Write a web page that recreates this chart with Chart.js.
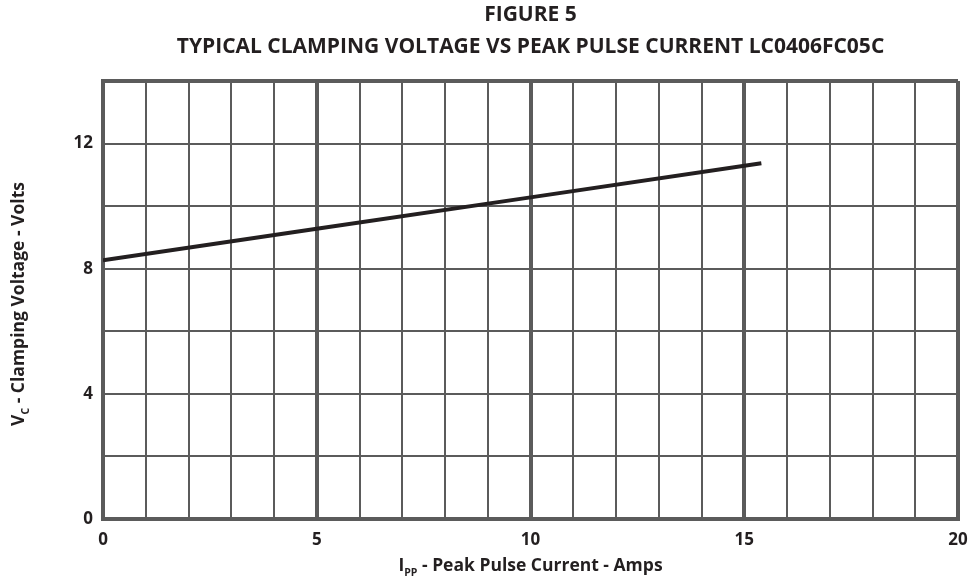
<!DOCTYPE html>
<html>
<head>
<meta charset="utf-8">
<script src="https://cdn.jsdelivr.net/npm/chart.js@4"></script>
<style>
    body { margin: 0; background: #fff; }
    canvas { display: block; }
</style>
</head>
<body>
<canvas id="clampChart" width="974" height="586"></canvas>
<script>
// Data
const currentAmps = [0, 5, 10, 15.4];
const clampVolts = [8.27, 9.28, 10.28, 11.37];
const xTickLabels = [0, 5, 10, 15, 20];
const yTickLabels = [0, 4, 8, 12];
const titleLines = ['FIGURE 5', 'TYPICAL CLAMPING VOLTAGE VS PEAK PULSE CURRENT LC0406FC05C'];

const ink = '#231f20';
const gridColor = '#5b5b5b';
const fontFamily = '"Open Sans", Lato, sans-serif';

// draws text with a subscript part, centred on (cx, cy)
function drawSubText(ctx, parts, cx, cy, size) {
    const widths = parts.map(p => {
        ctx.font = 'bold ' + (p.sub ? size * 0.6 : size) + 'px ' + fontFamily;
        return ctx.measureText(p.t).width;
    });
    let x = cx - widths.reduce((a, b) => a + b, 0) / 2;
    ctx.textBaseline = 'middle';
    ctx.textAlign = 'left';
    parts.forEach((p, i) => {
        ctx.font = 'bold ' + (p.sub ? size * 0.6 : size) + 'px ' + fontFamily;
        ctx.fillText(p.t, x, p.sub ? cy + size * 0.4 : cy);
        x += widths[i];
    });
}

const textPlugin = {
    id: 'figureText',
    afterDraw(chart) {
        const ctx = chart.ctx;
        const area = chart.chartArea;
        const cx = (area.left + area.right) / 2;
        const cy = (area.top + area.bottom) / 2;
        ctx.save();
        ctx.fillStyle = ink;
        ctx.textAlign = 'center';
        ctx.textBaseline = 'middle';
        ctx.font = 'bold 21px ' + fontFamily;
        ctx.fillText(titleLines[0], cx, 15);
        ctx.fillText(titleLines[1], cx, 47);

        drawSubText(ctx, [{t: 'I'}, {t: 'PP', sub: true}, {t: ' - Peak Pulse Current - Amps'}], cx, 566, 17.5);

        ctx.translate(19, cy + 4);
        ctx.rotate(-Math.PI / 2);
        drawSubText(ctx, [{t: 'V'}, {t: 'C', sub: true}, {t: ' - Clamping Voltage - Volts'}], 0, 0, 17.5);
        ctx.restore();
    }
};

const ctx = document.getElementById('clampChart').getContext('2d');
new Chart(ctx, {
    type: 'line',
    data: {
        datasets: [{
            data: currentAmps.map((x, i) => ({x: x, y: clampVolts[i]})),
            borderColor: ink,
            borderWidth: 4,
            pointRadius: 0,
            tension: 0,
            fill: false
        }]
    },
    options: {
        responsive: false,
        devicePixelRatio: 1,
        animation: false,
        layout: { padding: { top: 81, right: 16, left: 0, bottom: 0 } },
        plugins: {
            legend: { display: false },
            tooltip: { enabled: false }
        },
        scales: {
            x: {
                type: 'linear',
                min: 0,
                max: 20,
                afterFit: s => {
                    s.height = 67;
                    s.paddingLeft = 0;
                    s.paddingRight = 0;
                },
                border: { color: gridColor, width: 4 },
                grid: {
                    color: gridColor,
                    drawTicks: false,
                    lineWidth: c => (c.tick.value % 5 === 0 ? 4 : 2)
                },
                ticks: {
                    stepSize: 1,
                    padding: 11,
                    maxRotation: 0,
                    autoSkip: false,
                    color: ink,
                    font: { family: fontFamily, size: 17, weight: 'bold' },
                    callback: v => (xTickLabels.includes(v) ? v : '')
                }
            },
            y: {
                min: 0,
                max: 14,
                afterFit: s => { s.width = 103; },
                border: { color: gridColor, width: 4 },
                grid: {
                    color: gridColor,
                    drawTicks: false,
                    lineWidth: c => (c.tick.value === 14 ? 4 : 2)
                },
                ticks: {
                    stepSize: 2,
                    padding: 10,
                    autoSkip: false,
                    color: ink,
                    font: { family: fontFamily, size: 17, weight: 'bold' },
                    callback: v => (yTickLabels.includes(v) ? v : '')
                }
            }
        }
    },
    plugins: [textPlugin]
});
</script>
</body>
</html>
